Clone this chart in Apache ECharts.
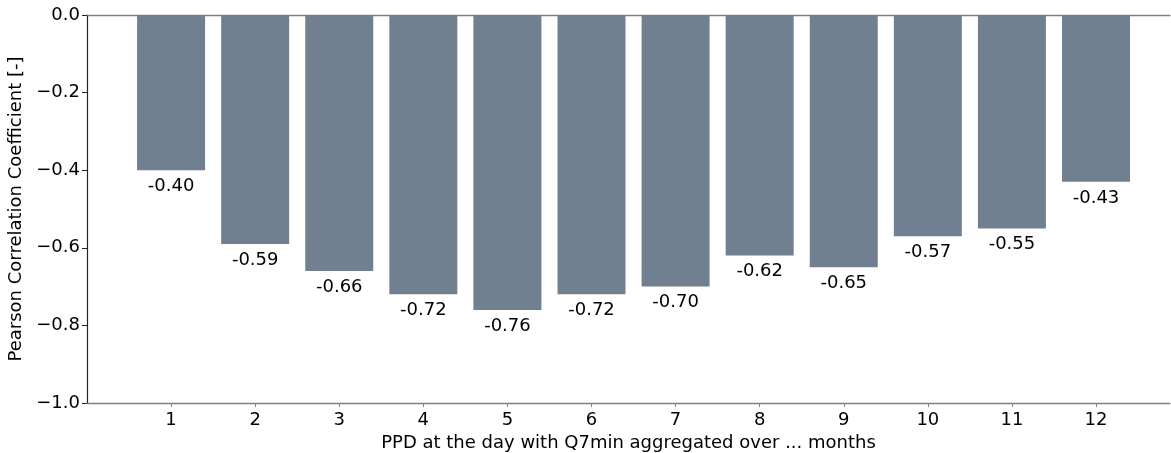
<!DOCTYPE html>
<html>
<head>
<meta charset="utf-8">
<script src="https://cdn.jsdelivr.net/npm/echarts@6/dist/echarts.min.js"></script>
<style>
  html, body { margin: 0; padding: 0; background: #fff; }
  #chart { width: 1171px; height: 453px; }
</style>
</head>
<body>
<div id="chart"></div>
<script>
// Months of aggregation and the Pearson correlation for each
const months = [1, 2, 3, 4, 5, 6, 7, 8, 9, 10, 11, 12];
const correlation = [-0.40, -0.59, -0.66, -0.72, -0.76, -0.72, -0.70, -0.62, -0.65, -0.57, -0.55, -0.43];
const yTicks = [-1.0, -0.8, -0.6, -0.4, -0.2, 0.0];

const font = 'DejaVu Sans';
const fs = 18;
const chart = echarts.init(document.getElementById('chart'));

chart.setOption({
  animation: false,
  grid: { left: 87, right: 1, top: 15, bottom: 50, containLabel: false, outerBoundsMode: 'none' },
  xAxis: [
    {
      type: 'value',
      min: 0,
      max: 12.88,
      position: 'bottom',
      splitLine: { show: false },
      axisLine: { show: true, onZero: false, lineStyle: { color: '#808080', width: 1.3 } },
      axisTick: { show: true, customValues: months, length: 4, lineStyle: { color: '#808080' } },
      axisLabel: {
        customValues: months,
        color: '#000', fontFamily: font, fontSize: fs, margin: 8,
        formatter: v => String(v)
      },
      name: 'PPD at the day with Q7min aggregated over ... months',
      nameLocation: 'middle',
      nameGap: 30,
      nameTextStyle: { color: '#000', fontFamily: font, fontSize: fs }
    },
    {
      type: 'value',
      min: 0,
      max: 12.88,
      position: 'top',
      splitLine: { show: false },
      axisLine: { show: true, onZero: false, lineStyle: { color: '#808080', width: 1.3 } },
      axisTick: { show: false },
      axisLabel: { show: false }
    }
  ],
  yAxis: {
    type: 'value',
    min: -1,
    max: 0,
    interval: 0.2,
    splitLine: { show: false },
    axisLine: { show: true, lineStyle: { color: '#222', width: 1.2 } },
    axisTick: { show: true, length: 5, lineStyle: { color: '#222' } },
    axisLabel: {
      customValues: yTicks,
      color: '#000', fontFamily: font, fontSize: fs, margin: 7,
      formatter: v => v.toFixed(1).replace('-', '\u2212')
    },
    name: 'Pearson Correlation Coefficient [-]',
    nameLocation: 'middle',
    nameGap: 48,
    nameTextStyle: { color: '#000', fontFamily: font, fontSize: fs }
  },
  series: [{
    type: 'bar',
    xAxisIndex: 0,
    data: months.map((m, i) => [m, correlation[i]]),
    barWidth: 68,
    itemStyle: { color: '#708090' },
    label: {
      show: true,
      position: 'bottom',
      distance: 7,
      color: '#000',
      fontFamily: font,
      fontSize: fs,
      formatter: p => p.value[1].toFixed(2)
    }
  }]
});
</script>
</body>
</html>
